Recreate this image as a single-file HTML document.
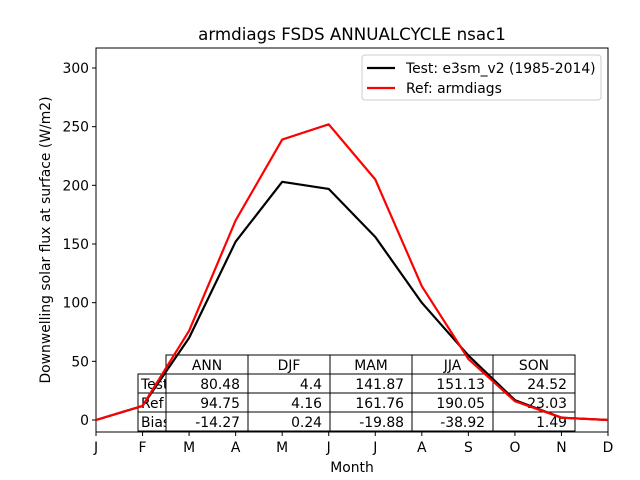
<!DOCTYPE html>
<html><head><meta charset="utf-8"><style>body{margin:0;background:#fff}svg{display:block;font-family:"DejaVu Sans","Liberation Sans",sans-serif}</style></head>
<body>
<svg id="c" width="640" height="480" xmlns="http://www.w3.org/2000/svg"><defs><clipPath id="lc"><rect x="138" y="374" width="28" height="57"/></clipPath></defs></svg>
<script>
const months=["J","F","M","A","M","J","J","A","S","O","N","D"];
const testVals=[0,12,70,152,203,197,156,100,55,17,2,0];
const refVals=[0,12,76,170,239,252,205,114,52,16,2,0];
const yTicks=[0,50,100,150,200,250,300];
const colLabels=["ANN","DJF","MAM","JJA","SON"];
const rowLabels=["Test","Ref","Bias"];
const testRow=["80.48","4.4","141.87","151.13","24.52"];
const refRow=["94.75","4.16","161.76","190.05","23.03"];
const biasRow=["-14.27","0.24","-19.88","-38.92","1.49"];
const NS="http://www.w3.org/2000/svg";
const svg=document.getElementById('c');
const L=96,R=608,T=48,B=432,Y0=420,YK=352/300;
const x=i=>L+i*(R-L)/11;
const y=v=>Y0-v*YK;
function mk(t,a,txt){const e=document.createElementNS(NS,t);for(const k in a)e.setAttribute(k,a[k]);if(txt!==undefined)e.textContent=txt;svg.appendChild(e);return e;}
let e;
e=mk('text',{x:352,y:40,'text-anchor':'middle','font-size':16.7},'armdiags FSDS ANNUALCYCLE nsac1');


const rows=[testRow,refRow,biasRow];
const cx=[166,248,330,412,493,575];
for(let j=0;j<5;j++){
 e=mk('rect',{x:cx[j],y:355,width:cx[j+1]-cx[j],height:19,fill:'#fff',stroke:'#000'});
 
 
 e=mk('text',{x:(cx[j]+cx[j+1])/2,y:370,'text-anchor':'middle','font-size':13.9},colLabels[j]);
 
 
}
for(let r=0;r<3;r++){
 const ty=374+r*19;
 e=mk('rect',{x:138,y:ty,width:28,height:19,fill:'#fff',stroke:'#000'});
 
 
 e=mk('text',{x:141,y:ty+15,'font-size':13.9,'clip-path':'url(#lc)'},rowLabels[r]);
 
 
 for(let j=0;j<5;j++){
  e=mk('rect',{x:cx[j],y:ty,width:cx[j+1]-cx[j],height:19,fill:'#fff',stroke:'#000'});
  
  
  e=mk('text',{x:cx[j+1]-8,y:ty+15,'text-anchor':'end','font-size':13.9},rows[r][j]);
  
  
 }
}
e=mk('rect',{x:L,y:T,width:R-L,height:B-T,fill:'none',stroke:'#000'});


for(const v of yTicks){
 e=mk('line',{x1:L-4,x2:L,y1:y(v),y2:y(v),stroke:'#000'});
 
 
 e=mk('text',{x:L-7,y:y(v)+5,'text-anchor':'end','font-size':13.9},String(v));
 
 
}
months.forEach((m,i)=>{
 e=mk('line',{x1:x(i),x2:x(i),y1:B,y2:B+4,stroke:'#000'});
 
 
 e=mk('text',{x:x(i),y:B+20,'text-anchor':'middle','font-size':13.9},m);
 
 
});
e=mk('text',{x:352,y:472,'text-anchor':'middle','font-size':13.9},'Month');


e=mk('text',{x:0,y:0,'text-anchor':'middle','font-size':13.9,transform:'translate(50,240) rotate(-90)'},'Downwelling solar flux at surface (W/m2)');


function line(vals,col,name){
 const p=vals.map((v,i)=>x(i).toFixed(1)+','+y(v).toFixed(1)).join(' ');
 const el=mk('polyline',{points:p,fill:'none',stroke:col,'stroke-width':2.2,'stroke-linejoin':'round'});
 
 
}
line(testVals,'#000','test-series-line');
line(refVals,'#f00','ref-series-line');
e=mk('rect',{x:362,y:55,width:239,height:45,rx:3,fill:'#fff',stroke:'#ccc'});


e=mk('line',{x1:367,x2:395,y1:68,y2:68,stroke:'#000','stroke-width':2.2});


e=mk('text',{x:406,y:73,'font-size':13.9},'Test: e3sm_v2 (1985-2014)');


e=mk('line',{x1:367,x2:395,y1:88,y2:88,stroke:'#f00','stroke-width':2.2});


e=mk('text',{x:406,y:93,'font-size':13.9},'Ref: armdiags');


</script>
</body></html>
